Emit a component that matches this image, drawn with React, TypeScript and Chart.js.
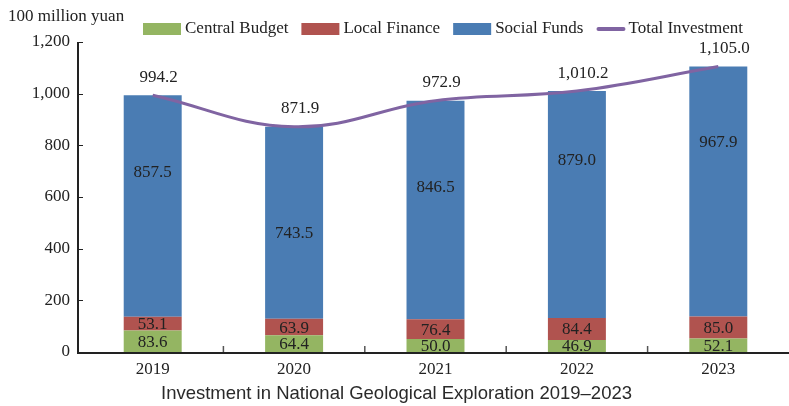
import React, { useEffect, useRef } from "react";
import { Chart, registerables } from "chart.js";

Chart.register(...registerables);

const categories = ["2019", "2020", "2021", "2022", "2023"];
const centralBudget = [83.6, 64.4, 50.0, 46.9, 52.1];
const localFinance = [53.1, 63.9, 76.4, 84.4, 85.0];
const socialFunds = [857.5, 743.5, 846.5, 879.0, 967.9];
const totalInvestment = [994.2, 871.9, 972.9, 1010.2, 1105.0];
const yTickValues = [0, 200, 400, 600, 800, 1000, 1200];
// value-space anchors where the Social Funds labels sit inside the blue bars
const socialLabelAnchors = [693, 457, 635, 743, 809];

const seriesNames = ["Central Budget", "Local Finance", "Social Funds", "Total Investment"];
const COLORS = {
  green: "#94b562",
  red: "#b0534f",
  blue: "#4a7cb3",
  purple: "#8064a2",
  text: "#222222",
  axis: "#222222",
};
const SERIF = '"Liberation Serif", "Times New Roman", serif';
const SANS = '"Liberation Sans", Arial, sans-serif';
const AXIS_GAP = 4;

const fmt1 = (v: number) =>
  v.toLocaleString("en-US", { minimumFractionDigits: 1, maximumFractionDigits: 1 });
const fmt0 = (v: number) => v.toLocaleString("en-US", { maximumFractionDigits: 0 });

const decorPlugin = {
  id: "decor",
  afterDraw(chart: any) {
    const ctx = chart.ctx as CanvasRenderingContext2D;
    const area = chart.chartArea;
    const xs = chart.scales.x;
    const ys = chart.scales.y;
    const axisX = area.left - AXIS_GAP;
    ctx.save();

    // axis lines
    ctx.strokeStyle = COLORS.axis;
    ctx.lineWidth = 2;
    ctx.beginPath();
    ctx.moveTo(axisX, area.top);
    ctx.lineTo(axisX, area.bottom + 1);
    ctx.lineTo(area.right, area.bottom + 1);
    ctx.stroke();

    // inward tick marks on y axis
    ctx.lineWidth = 1;
    yTickValues.forEach((v) => {
      const y = Math.round(ys.getPixelForValue(v)) + 0.5;
      ctx.beginPath();
      ctx.moveTo(axisX, y);
      ctx.lineTo(axisX + 5, y);
      ctx.stroke();
    });
    // inward tick marks on x axis between categories
    ctx.strokeStyle = "#555";
    ctx.lineWidth = 1.5;
    for (let i = 0; i < categories.length - 1; i++) {
      const x = (xs.getPixelForValue(i) + xs.getPixelForValue(i + 1)) / 2;
      ctx.beginPath();
      ctx.moveTo(x, area.bottom);
      ctx.lineTo(x, area.bottom - 6);
      ctx.stroke();
    }

    // data labels
    ctx.fillStyle = COLORS.text;
    ctx.font = `17px ${SERIF}`;
    ctx.textAlign = "center";
    ctx.textBaseline = "middle";
    categories.forEach((_, i) => {
      const x = xs.getPixelForValue(i);
      const c = centralBudget[i];
      const l = localFinance[i];
      ctx.fillText(fmt1(c), x, ys.getPixelForValue(c / 2) + 1);
      ctx.fillText(fmt1(l), x, ys.getPixelForValue(c + l / 2) + 1);
      ctx.fillText(fmt1(socialFunds[i]), x, ys.getPixelForValue(socialLabelAnchors[i]));
      ctx.fillText(fmt1(totalInvestment[i]), x + 6, ys.getPixelForValue(totalInvestment[i]) - 18);
    });

    // unit label
    ctx.textAlign = "left";
    ctx.fillText("100 million yuan", 8, 17);

    // legend
    const legendColors = [COLORS.green, COLORS.red, COLORS.blue, COLORS.purple];
    let lx = 143;
    const ly = 29;
    seriesNames.forEach((name, i) => {
      if (i < 3) {
        ctx.fillStyle = legendColors[i];
        ctx.fillRect(lx, ly - 6, 38, 12);
        lx += 42;
      } else {
        ctx.strokeStyle = legendColors[i];
        ctx.lineWidth = 4;
        ctx.lineCap = "round";
        ctx.beginPath();
        ctx.moveTo(lx + 2, ly);
        ctx.lineTo(lx + 27, ly);
        ctx.stroke();
        lx += 32;
      }
      ctx.fillStyle = COLORS.text;
      ctx.fillText(name, lx, ly);
      lx += ctx.measureText(name).width + 13;
    });

    // title
    ctx.font = `18.5px ${SANS}`;
    ctx.fillStyle = "#2a2a2a";
    ctx.textAlign = "center";
    ctx.fillText("Investment in National Geological Exploration 2019\u20132023", 396.5, 394);

    ctx.restore();
  },
};

export default function App() {
  const ref = useRef<HTMLCanvasElement>(null);
  useEffect(() => {
    document.body.style.margin = "0";
    const canvas = ref.current!;
    const chart = new Chart(canvas, {
      type: "bar",
      data: {
        labels: categories,
        datasets: [
          { type: "bar", label: seriesNames[0], data: centralBudget, backgroundColor: COLORS.green, stack: "s", order: 1 },
          { type: "bar", label: seriesNames[1], data: localFinance, backgroundColor: COLORS.red, stack: "s", order: 1 },
          { type: "bar", label: seriesNames[2], data: socialFunds, backgroundColor: COLORS.blue, stack: "s", order: 1 },
          {
            type: "line",
            label: seriesNames[3],
            data: totalInvestment,
            borderColor: COLORS.purple,
            borderWidth: 3,
            pointRadius: 0,
            tension: 0.4,
            stack: "total",
            order: 0,
          } as any,
        ],
      },
      options: {
        responsive: false,
        animation: false,
        devicePixelRatio: 1,
        layout: { padding: { top: 42, right: 0, bottom: 0, left: 0 } },
        datasets: { bar: { barPercentage: 0.41, categoryPercentage: 1 } } as any,
        plugins: { legend: { display: false }, tooltip: { enabled: false }, title: { display: false } },
        scales: {
          x: {
            stacked: true,
            offset: true,
            grid: { display: false, drawTicks: false },
            border: { display: false },
            ticks: { color: COLORS.text, font: { family: SERIF, size: 17 }, padding: 7 },
            afterFit: (s: any) => { s.height = 54; },
          },
          y: {
            stacked: true,
            min: 0,
            max: 1200,
            grid: { display: false, drawTicks: false },
            border: { display: false },
            afterBuildTicks: (s: any) => { s.ticks = yTickValues.map((v) => ({ value: v })); },
            ticks: {
              color: COLORS.text,
              font: { family: SERIF, size: 17 },
              padding: 8 + AXIS_GAP,
              callback: (v: any) => fmt0(Number(v)),
            },
            afterFit: (s: any) => { s.width = 82; },
          },
        },
      },
      plugins: [decorPlugin],
    });
    return () => chart.destroy();
  }, []);
  return <canvas ref={ref} width={789} height={406} style={{ display: "block" }} />;
}
